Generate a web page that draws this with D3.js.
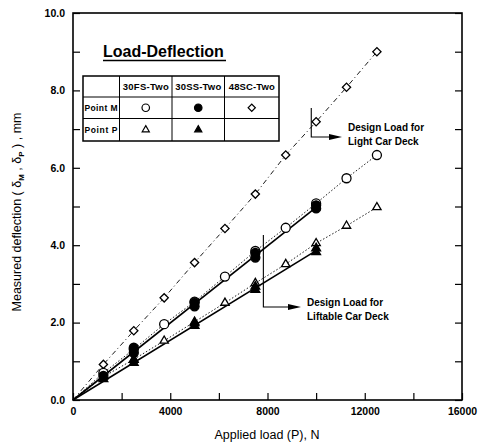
<!DOCTYPE html>
<html><head><meta charset="utf-8">
<script src="https://cdn.jsdelivr.net/npm/d3@7"></script>
<style>body{margin:0;background:#fff}svg{display:block}text{font-family:Arial,"Liberation Sans",sans-serif}</style>
</head><body><svg id="c" width="483" height="445"></svg>
<script>
// ---- data ----
const loads = [1250,2500,3750,5000,6250,7500,8750,10000,11250,12500];
const sc48M = [0.92,1.79,2.64,3.55,4.43,5.32,6.33,7.19,8.08,9.00];          // 48SC-Two, Point M (diamonds)
const fs30M = [0.70,1.31,1.96,2.54,3.19,3.85,4.45,5.08,5.73,6.33];          // 30FS-Two, Point M (open circles)
const fs30P = [0.60,1.05,1.53,2.02,2.51,3.02,3.51,4.05,4.50,4.98];          // 30FS-Two, Point P (open triangles)
const ssLoads = [1250,2500,2500,5000,5000,7500,7500,10000,10000];
const ss30M = [0.62,1.22,1.35,2.42,2.52,3.68,3.80,4.95,5.03];               // 30SS-Two, Point M (filled circles)
const ss30P = [0.54,0.96,1.04,1.92,1.99,2.85,2.93,3.82,3.92];               // 30SS-Two, Point P (filled triangles)
const ssFit = {M:[0,10000,0,4.98], P:[0,10000,0,3.86]};
const xTickVals = [0,2000,4000,6000,8000,10000,12000,14000,16000];
const xLabelVals = [0,4000,8000,12000,16000];
const yTickVals = [0,1,2,3,4,5,6,7,8,9,10];
const yLabelVals = [0,2,4,6,8,10];
const legendCols = ["30FS-Two","30SS-Two","48SC-Two"];
const legendRows = ["Point M","Point P"];
const lightDeckLoad = 9800, liftDeckLoad = 7830;

const svg = d3.select("#c");
const x = d3.scaleLinear().domain([0,16000]).range([73,462]);
const y = d3.scaleLinear().domain([0,10]).range([400,13]);

// axes
const fmtY = d => d.toFixed(1);
svg.append("g").attr("transform","translate(0,400)")
  .call(d3.axisBottom(x).tickValues(xTickVals).tickSizeInner(-7).tickSizeOuter(0).tickPadding(8)
    .tickFormat(d => xLabelVals.includes(d) ? d : ""))
  .call(g=>{g.select(".domain").remove();g.selectAll("text").attr("font-size",10.5).attr("font-weight","bold");g.selectAll("line").attr("stroke-width",1.2);});
svg.append("g").attr("transform","translate(73,0)")
  .call(d3.axisLeft(y).tickValues(yTickVals).tickSizeInner(-7).tickSizeOuter(0).tickPadding(8)
    .tickFormat(d => yLabelVals.includes(d) ? fmtY(d) : ""))
  .call(g=>{g.select(".domain").remove();g.selectAll("text").attr("font-size",10.5).attr("font-weight","bold");g.selectAll("line").attr("stroke-width",1.2);});
svg.append("g").attr("transform","translate(462,0)")
  .call(d3.axisRight(y).tickValues(yTickVals).tickSizeInner(-7).tickSizeOuter(0).tickFormat(""))
  .call(g=>{g.select(".domain").remove();g.selectAll("line").attr("stroke-width",1.2);});
svg.append("rect").attr("x",73).attr("y",13).attr("width",389).attr("height",387)
  .attr("fill","none").attr("stroke","#000").attr("stroke-width",1.6);

// axis titles
svg.append("text").attr("x",267).attr("y",439).attr("text-anchor","middle").attr("font-size",12.5).text("Applied load (P), N");
const yl = svg.append("text").attr("transform","translate(21,212) rotate(-90)").attr("text-anchor","middle").attr("font-size",12.5);
yl.append("tspan").text("Measured deflection ( δ");
yl.append("tspan").attr("font-size",8).attr("dy",3).attr("font-weight","bold").text("M");
yl.append("tspan").attr("dy",-3).text(" , δ");
yl.append("tspan").attr("font-size",8).attr("dy",3).attr("font-weight","bold").text("P");
yl.append("tspan").attr("dy",-3).text(" ) , mm");

// lines
const line = d3.line().x(d=>x(d[0])).y(d=>y(d[1]));
const withOrigin = (xs,ys) => [[0,0]].concat(xs.map((v,i)=>[v,ys[i]]));
svg.append("path").attr("d",line(withOrigin(loads,sc48M))).attr("fill","none").attr("stroke","#000").attr("stroke-width",0.9).attr("stroke-dasharray","5,3,1,3");
svg.append("path").attr("d",line(withOrigin(loads,fs30M))).attr("fill","none").attr("stroke","#000").attr("stroke-width",0.9).attr("stroke-dasharray","1.5,2");
svg.append("path").attr("d",line(withOrigin(loads,fs30P))).attr("fill","none").attr("stroke","#000").attr("stroke-width",0.9).attr("stroke-dasharray","1.5,2");
svg.append("path").attr("d",line([[ssFit.M[0],ssFit.M[2]],[ssFit.M[1],ssFit.M[3]]])).attr("fill","none").attr("stroke","#000").attr("stroke-width",1.6);
svg.append("path").attr("d",line([[ssFit.P[0],ssFit.P[2]],[ssFit.P[1],ssFit.P[3]]])).attr("fill","none").attr("stroke","#000").attr("stroke-width",1.6);

// markers
const sym = (type,size)=>d3.symbol().type(type).size(size)();
function markers(xs,ys,type,size,filled){
  svg.append("g").selectAll("path").data(xs.map((v,i)=>[v,ys[i]])).join("path")
    .attr("transform",d=>`translate(${x(d[0])},${y(d[1])})`+(type===d3.symbolSquare?" rotate(45)":""))
    .attr("d",sym(type,size)).attr("fill",filled?"#000":"#fff").attr("stroke","#000").attr("stroke-width",1.3);
}
markers(loads,sc48M,d3.symbolSquare,34,false);
markers(loads,fs30M,d3.symbolCircle,64,false);
markers(loads,fs30P,d3.symbolTriangle,30,false);
markers(ssLoads,ss30M,d3.symbolCircle,64,true);
markers(ssLoads,ss30P,d3.symbolTriangle,34,true);

// title
svg.append("text").attr("x",103).attr("y",57).attr("font-size",16).attr("font-weight","bold").text("Load-Deflection");
svg.append("line").attr("x1",103).attr("x2",226).attr("y1",60.5).attr("y2",60.5).attr("stroke","#000").attr("stroke-width",1.3);

// legend table
const colX=[83,119.5,172,224.5,279], rowY=[76,97,118.5,141];
const lg = svg.append("g");
lg.append("rect").attr("x",colX[0]).attr("y",rowY[0]).attr("width",colX[4]-colX[0]).attr("height",rowY[3]-rowY[0]).attr("fill","#fff").attr("stroke","#000").attr("stroke-width",1.5);
colX.slice(1,4).forEach(c=>lg.append("line").attr("x1",c).attr("x2",c).attr("y1",rowY[0]).attr("y2",rowY[3]).attr("stroke","#000").attr("stroke-width",1));
rowY.slice(1,3).forEach(r=>lg.append("line").attr("x1",colX[0]).attr("x2",colX[4]).attr("y1",r).attr("y2",r).attr("stroke","#000").attr("stroke-width",1));
legendCols.forEach((t,i)=>lg.append("text").attr("x",(colX[i+1]+colX[i+2])/2).attr("y",(rowY[0]+rowY[1])/2+3.5).attr("text-anchor","middle").attr("font-size",9.5).attr("font-weight","bold").attr("textLength",46).text(t));
legendRows.forEach((t,i)=>lg.append("text").attr("x",colX[0]+1.5).attr("y",(rowY[i+1]+rowY[i+2])/2+3).attr("font-size",8.5).attr("font-weight","bold").attr("textLength",33).text(t));
const legendSyms=[[0,0,d3.symbolCircle,44,false],[0,1,d3.symbolCircle,44,true],[0,2,d3.symbolSquare,26,false],[1,0,d3.symbolTriangle,22,false],[1,1,d3.symbolTriangle,22,true]];
legendSyms.forEach(([r,c,t,s,f])=>{
  const cx=(colX[c+1]+colX[c+2])/2, cy=(rowY[r+1]+rowY[r+2])/2;
  lg.append("path").attr("transform",`translate(${cx},${cy})`+(t===d3.symbolSquare?" rotate(45)":"")).attr("d",sym(t,s))
    .attr("fill",f?"#000":"#fff").attr("stroke","#000").attr("stroke-width",1.2);
});

// annotations
function annot(load,yTop,yBot,xEnd,lines,tx,ty){
  const x0=x(load);
  svg.append("path").attr("d",`M${x0},${yTop}V${yBot}H${xEnd-12}`).attr("fill","none").attr("stroke","#000").attr("stroke-width",1.1);
  svg.append("path").attr("d",`M${xEnd-13},${yBot-3}L${xEnd},${yBot}L${xEnd-13},${yBot+3}Z`).attr("fill","#000");
  lines.forEach((l,i)=>svg.append("text").attr("x",tx).attr("y",ty+i*14).attr("font-size",10).attr("font-weight","bold").text(l));
}
annot(lightDeckLoad,108,137,342,["Design Load for","Light Car Deck"],348,131);
annot(liftDeckLoad,235,307,301,["Design Load for","Liftable Car Deck"],307,306);
</script></body></html>
